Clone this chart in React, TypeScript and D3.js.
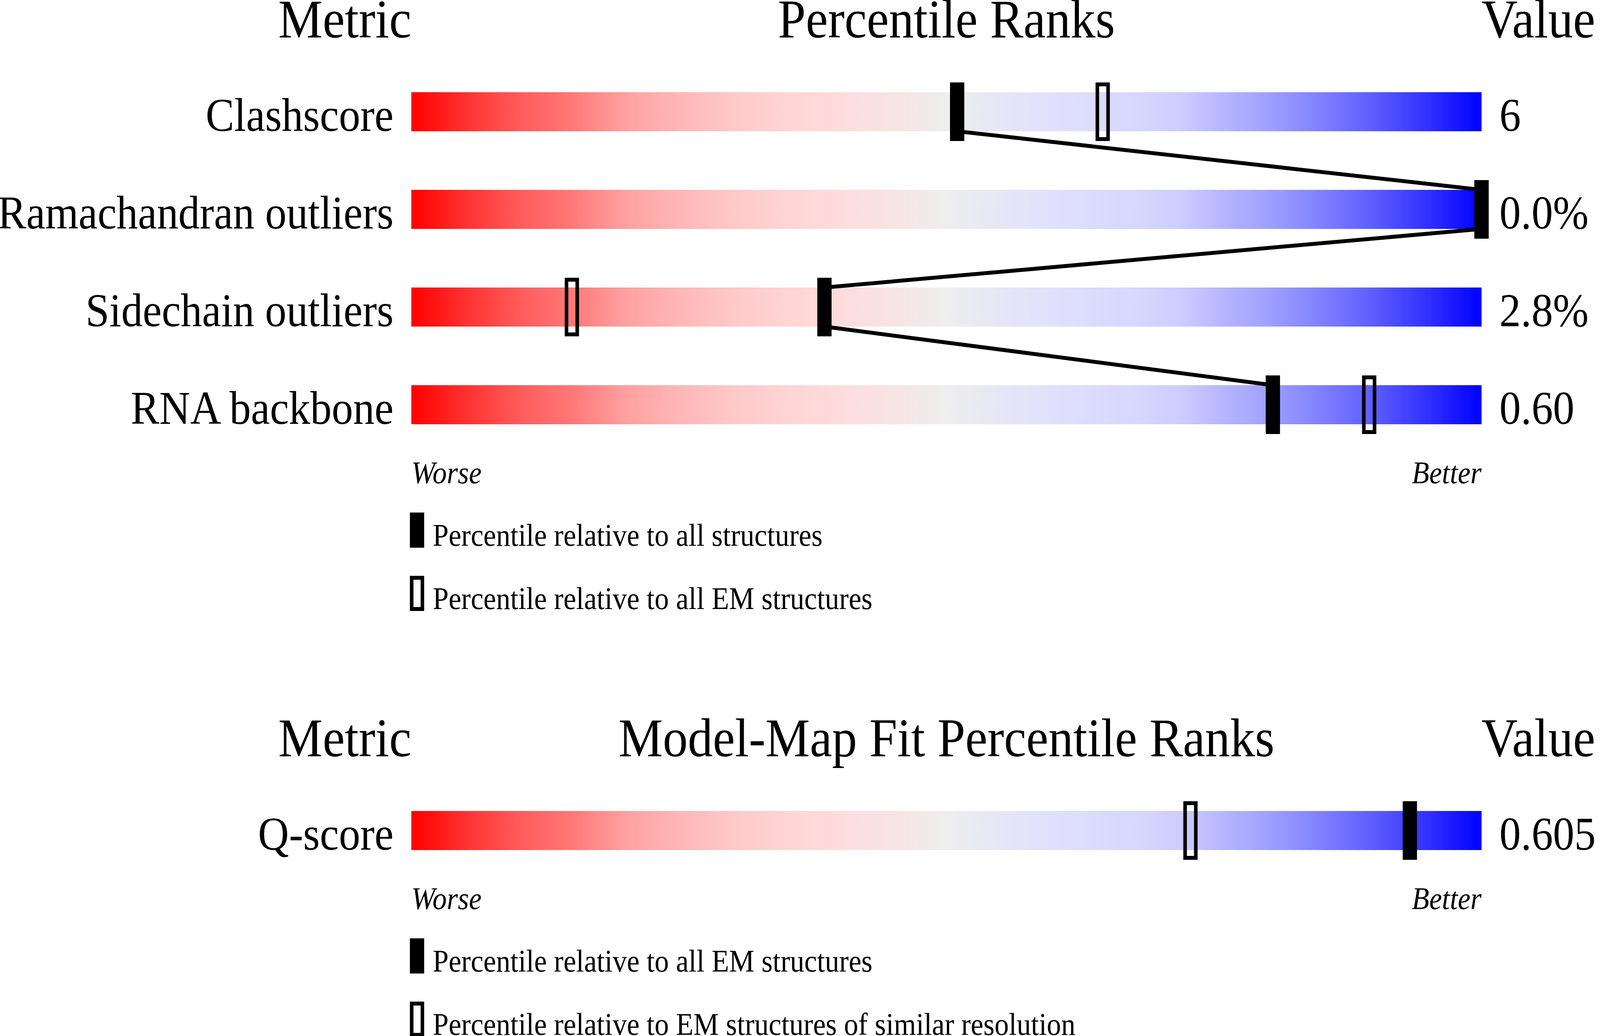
import React, { useRef, useLayoutEffect } from "react";
import * as d3 from "d3";

// geometry quality section
const qualityMetrics = ["Clashscore", "Ramachandran outliers", "Sidechain outliers", "RNA backbone"];
const qualityValues = ["6", "0.0%", "2.8%", "0.60"];
const qualityAll = [51, 100, 38.6, 80.5]; // percentile vs all structures
const qualityEM = [64.6, 100, 15, 89.5]; // percentile vs all EM structures

// model-map fit section
const fitMetrics = ["Q-score"];
const fitValues = ["0.605"];
const fitAllEM = [93.3];
const fitSimilar = [72.8];

// slider gradient (worse -> better)
const sliderStops: [number, string][] = [
  [0, "#ff0000"],
  [0.05, "#ff3030"],
  [0.1, "#ff5a5a"],
  [0.15, "#ff7878"],
  [0.2, "#ffa0a0"],
  [0.25, "#ffb6b6"],
  [0.3, "#ffc8c8"],
  [0.35, "#ffd4d4"],
  [0.4, "#ffdcdc"],
  [0.45, "#f8e3e3"],
  [0.5, "#eeeeee"],
  [0.55, "#e6e6f6"],
  [0.6, "#e0e0fc"],
  [0.68, "#d6d6ff"],
  [0.72, "#ccccff"],
  [0.75, "#babaff"],
  [0.8, "#a0a0ff"],
  [0.85, "#8080ff"],
  [0.9, "#5c5cff"],
  [0.95, "#3030ff"],
  [1, "#0000ff"],
];

const W = 4485;
const H = 2652;
const BAR_X = 1153;
const BAR_W = 3000;
const BAR_H = 100;
const ROW_STEP = 250;
const FONT = "'Liberation Serif', 'Times New Roman', serif";

type Section = {
  y0: number;
  title: string;
  names: string[];
  vals: string[];
  solid: number[];
  hollow: number[];
  solidLabel: string;
  hollowLabel: string;
  link: boolean;
};

function drawSection(root: d3.Selection<SVGSVGElement, unknown, null, undefined>, s: Section) {
  const x = d3.scaleLinear().domain([0, 100]).range([BAR_X, BAR_X + BAR_W]);
  const rowY = d3.scaleLinear().domain([0, 1]).range([s.y0 + 140, s.y0 + 140 + ROW_STEP]);
  const g = root.append("g").attr("font-family", FONT).attr("fill", "#000");

  // header
  g.append("text").attr("x", BAR_X).attr("y", s.y0).attr("text-anchor", "end").attr("font-size", 140).text("Metric");
  g.append("text").attr("x", BAR_X + BAR_W / 2).attr("y", s.y0).attr("text-anchor", "middle").attr("font-size", 140).text(s.title);
  g.append("text").attr("x", BAR_X + BAR_W).attr("y", s.y0).attr("text-anchor", "start").attr("font-size", 140).text("Value");

  const idx = d3.range(s.names.length);

  g.selectAll("text.lbl")
    .data(idx)
    .enter()
    .append("text")
    .attr("class", "lbl")
    .attr("x", BAR_X - 50)
    .attr("y", (i) => rowY(i) + 99)
    .attr("text-anchor", "end")
    .attr("font-size", 120)
    .text((i) => s.names[i]);

  g.selectAll("rect.bar")
    .data(idx)
    .enter()
    .append("rect")
    .attr("class", "bar")
    .attr("x", BAR_X)
    .attr("y", (i) => rowY(i))
    .attr("width", BAR_W)
    .attr("height", BAR_H)
    .attr("fill", "url(#slider)");

  g.selectAll("text.val")
    .data(idx)
    .enter()
    .append("text")
    .attr("class", "val")
    .attr("x", BAR_X + BAR_W + 50)
    .attr("y", (i) => rowY(i) + 99)
    .attr("font-size", 120)
    .text((i) => s.vals[i]);

  if (s.link) {
    g.selectAll("line.link")
      .data(idx.slice(0, -1))
      .enter()
      .append("line")
      .attr("class", "link")
      .attr("x1", (i) => x(s.solid[i]))
      .attr("y1", (i) => rowY(i) + BAR_H)
      .attr("x2", (i) => x(s.solid[i + 1]))
      .attr("y2", (i) => rowY(i + 1))
      .attr("stroke", "#000")
      .attr("stroke-width", 10);
  }

  g.selectAll("rect.hollow")
    .data(idx)
    .enter()
    .append("rect")
    .attr("class", "hollow")
    .attr("x", (i) => x(s.hollow[i]) - 15)
    .attr("y", (i) => rowY(i) - 20)
    .attr("width", 30)
    .attr("height", BAR_H + 40)
    .attr("fill", "none")
    .attr("stroke", "#000")
    .attr("stroke-width", 10);

  g.selectAll("rect.solid")
    .data(idx)
    .enter()
    .append("rect")
    .attr("class", "solid")
    .attr("x", (i) => x(s.solid[i]) - 20)
    .attr("y", (i) => rowY(i) - 25)
    .attr("width", 40)
    .attr("height", BAR_H + 50)
    .attr("fill", "#000");

  const last = rowY(s.names.length - 1);

  g.append("text").attr("x", BAR_X).attr("y", last + 251).attr("font-size", 80).attr("font-style", "italic").text("Worse");
  g.append("text")
    .attr("x", BAR_X + BAR_W)
    .attr("y", last + 251)
    .attr("text-anchor", "end")
    .attr("font-size", 80)
    .attr("font-style", "italic")
    .text("Better");

  // legend
  g.append("rect").attr("x", BAR_X - 4).attr("y", last + 326).attr("width", 40).attr("height", 90).attr("fill", "#000");
  g.append("text").attr("x", BAR_X + 60).attr("y", last + 411).attr("font-size", 80).text(s.solidLabel);
  g.append("rect")
    .attr("x", BAR_X + 1)
    .attr("y", last + 493)
    .attr("width", 30)
    .attr("height", 80)
    .attr("fill", "none")
    .attr("stroke", "#000")
    .attr("stroke-width", 10);
  g.append("text").attr("x", BAR_X + 60).attr("y", last + 573).attr("font-size", 80).text(s.hollowLabel);
}

export default function App() {
  const svgRef = useRef<SVGSVGElement | null>(null);

  useLayoutEffect(() => {
    document.documentElement.style.overflow = "hidden";
    document.body.style.margin = "0";
    const svg = svgRef.current;
    if (!svg) return;
    const sel = d3.select(svg);
    sel.selectAll("*").remove();

    const grad = sel.append("defs").append("linearGradient").attr("id", "slider").attr("x1", 0).attr("x2", 1).attr("y1", 0).attr("y2", 0);
    grad
      .selectAll("stop")
      .data(sliderStops)
      .enter()
      .append("stop")
      .attr("offset", (d) => d[0])
      .attr("stop-color", (d) => d[1]);

    drawSection(sel, {
      y0: 96,
      title: "Percentile Ranks",
      names: qualityMetrics,
      vals: qualityValues,
      solid: qualityAll,
      hollow: qualityEM,
      solidLabel: "Percentile relative to all structures",
      hollowLabel: "Percentile relative to all EM structures",
      link: true,
    });

    drawSection(sel, {
      y0: 1936,
      title: "Model-Map Fit Percentile Ranks",
      names: fitMetrics,
      vals: fitValues,
      solid: fitAllEM,
      hollow: fitSimilar,
      solidLabel: "Percentile relative to all EM structures",
      hollowLabel: "Percentile relative to EM structures of similar resolution",
      link: false,
    });
  }, []);

  // fill the whole window, whatever its size in css pixels
  return (
    <div style={{ position: "fixed", left: 0, top: 0, width: "100vw", height: "100vh", background: "#fff", overflow: "hidden" }}>
      <svg
        ref={svgRef}
        viewBox={`0 0 ${W} ${H}`}
        preserveAspectRatio="none"
        style={{ display: "block", width: "100vw", height: "100vh" }}
      />
    </div>
  );
}
